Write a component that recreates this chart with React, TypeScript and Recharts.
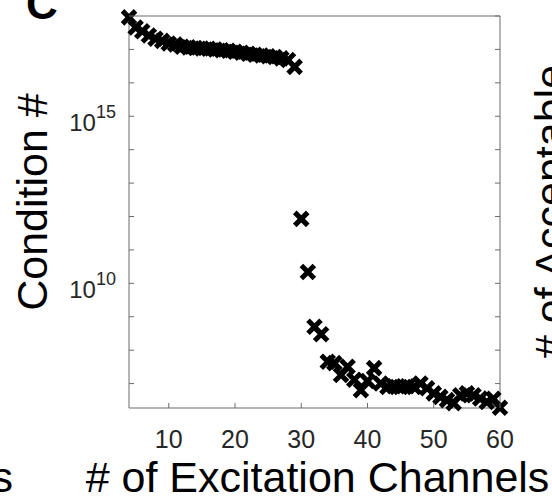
import { Label, Scatter, ScatterChart, XAxis, YAxis } from "recharts";

// # of excitation channels (x) and the condition number measured for each
const channels = [
  4, 5, 6, 7, 8, 9, 10, 11, 12, 13, 14, 15, 16, 17, 18, 19, 20, 21, 22, 23, 24, 25, 26, 27, 28, 29,
  30, 31, 32, 33, 34, 35, 36, 37, 38, 39, 40, 41, 42, 43, 44, 45, 46, 47, 48, 49, 50, 51, 52, 53,
  54, 55, 56, 57, 58, 59, 60,
];
const conditionNumbers = [
  9.1e17, 4.5e17, 3.5e17, 2.6e17, 2.1e17, 1.8e17, 1.5e17, 1.4e17, 1.2e17, 1.15e17, 1.1e17, 1.07e17,
  1.05e17, 1.0e17, 9.5e16, 9.1e16, 8.5e16, 7.9e16, 7.4e16, 6.9e16, 6.6e16, 6.2e16, 5.9e16, 5.4e16,
  4.8e16, 3.0e16,
  8.5e11, 2.2e10, 5.0e8, 3.0e8,
  4.5e7, 4.1e7, 1.8e7, 3.2e7, 1.3e7, 6.3e6, 1.2e7, 2.9e7, 1.0e7,
  7.9e6, 8.3e6, 7.9e6, 8.3e6, 7.9e6, 1.0e7, 7.2e6, 5.1e6, 4.0e6, 3.2e6, 2.6e6, 4.5e6, 5.1e6, 4.5e6,
  3.6e6, 2.8e6, 3.5e6, 1.9e6,
];

const xTicks = [10, 20, 30, 40, 50, 60];
const yTicks = [1e7, 1e8, 1e9, 1e10, 1e11, 1e12, 1e13, 1e14, 1e15, 1e16, 1e17, 1e18];
const labeledExponents = [10, 15];

const xDomain = [4, 60];
const yDomain = [1.86e6, 1e18];

const data = channels.map((c, i) => ({ x: c, y: conditionNumbers[i] }));

const FONT = "'Liberation Sans', Arial, sans-serif";
const AXIS = "#6b6b6b";
const TICK_TEXT = "#262626";
const TICK_LEN = 5;

function XMark(props: any) {
  const { cx, cy } = props;
  const s = 6.5;
  return (
    <path
      d={`M${cx - s},${cy - s}L${cx + s},${cy + s}M${cx - s},${cy + s}L${cx + s},${cy - s}`}
      stroke="#000"
      strokeWidth={5}
      fill="none"
    />
  );
}

// tick at the axis line, pointing into the plot, with the label below
function BottomTick(props: any) {
  const { x, y, payload } = props;
  return (
    <g>
      <line x1={x} y1={y} x2={x} y2={y - TICK_LEN} stroke={AXIS} />
      <text x={x} y={y + 40} textAnchor="middle" fontSize={25} fill={TICK_TEXT} fontFamily={FONT}>
        {payload.value}
      </text>
    </g>
  );
}

function TopTick(props: any) {
  const { x, y } = props;
  return <line x1={x} y1={y} x2={x} y2={y + TICK_LEN} stroke={AXIS} />;
}

function LeftTick(props: any) {
  const { x, y, payload } = props;
  const exp = Math.round(Math.log10(payload.value));
  return (
    <g>
      <line x1={x} y1={y} x2={x + TICK_LEN} y2={y} stroke={AXIS} />
      {labeledExponents.includes(exp) && (
        <text x={x - 13} y={y + 15} textAnchor="end" fill={TICK_TEXT} fontFamily={FONT}>
          <tspan fontSize={24}>10</tspan>
          <tspan fontSize={18} dy={-13}>
            {exp}
          </tspan>
        </text>
      )}
    </g>
  );
}

function RightTick(props: any) {
  const { x, y } = props;
  return <line x1={x} y1={y} x2={x - TICK_LEN} y2={y} stroke={AXIS} />;
}

function YTitle(props: any) {
  const { viewBox } = props;
  const cx = viewBox.x + 47;
  const cy = viewBox.y + viewBox.height / 2 - 10;
  return (
    <text
      transform={`translate(${cx} ${cy}) rotate(-90)`}
      textAnchor="middle"
      fontSize={43}
      fontFamily={FONT}
      fill="#000"
    >
      Condition #
    </text>
  );
}

export default function App() {
  return (
    <div style={{ position: "absolute", left: 0, top: 0, width: 552, height: 499, background: "#fff" }}>
      <ScatterChart width={552} height={499} margin={{ top: 15, right: 51, bottom: 0, left: 0 }}>
        <XAxis
          dataKey="x"
          type="number"
          domain={xDomain}
          ticks={xTicks}
          height={91}
          stroke={AXIS}
          tickLine={false}
          tickSize={0}
          tickMargin={0}
          tick={<BottomTick />}
        >
          <Label
            value="# of Excitation Channels"
            position="insideBottom"
            offset={7}
            dx={3}
            style={{ fontSize: 43, fill: "#000", fontFamily: FONT }}
          />
        </XAxis>
        <XAxis
          xAxisId="top"
          orientation="top"
          type="number"
          domain={xDomain}
          ticks={xTicks}
          height={1}
          allowDataOverflow
          stroke={AXIS}
          tickLine={false}
          tickSize={0}
          tickMargin={0}
          tick={<TopTick />}
        />
        <YAxis
          dataKey="y"
          type="number"
          scale="log"
          domain={yDomain}
          ticks={yTicks}
          width={129}
          stroke={AXIS}
          tickLine={false}
          tickSize={0}
          tickMargin={0}
          tick={<LeftTick />}
          label={<YTitle />}
        />
        <YAxis
          yAxisId="right"
          orientation="right"
          type="number"
          scale="log"
          domain={yDomain}
          ticks={yTicks}
          width={1}
          allowDataOverflow
          stroke={AXIS}
          tickLine={false}
          tickSize={0}
          tickMargin={0}
          tick={<RightTick />}
        />
        <Scatter data={data} shape={<XMark />} isAnimationActive={false} />
      </ScatterChart>
      <svg
        width={552}
        height={499}
        style={{ position: "absolute", left: 0, top: 0, pointerEvents: "none" }}
      >
        <text x={26} y={19} fontSize={44} fontWeight="bold" fontFamily={FONT} fill="#000">
          C
        </text>
        <text x={13} y={492} textAnchor="end" fontSize={43} fontFamily={FONT} fill="#000">
          # of Excitation Channels
        </text>
        <text
          transform="translate(565 359) rotate(-90)"
          fontSize={43}
          fontFamily={FONT}
          fill="#000"
        >
          # of Acceptable
        </text>
      </svg>
    </div>
  );
}
